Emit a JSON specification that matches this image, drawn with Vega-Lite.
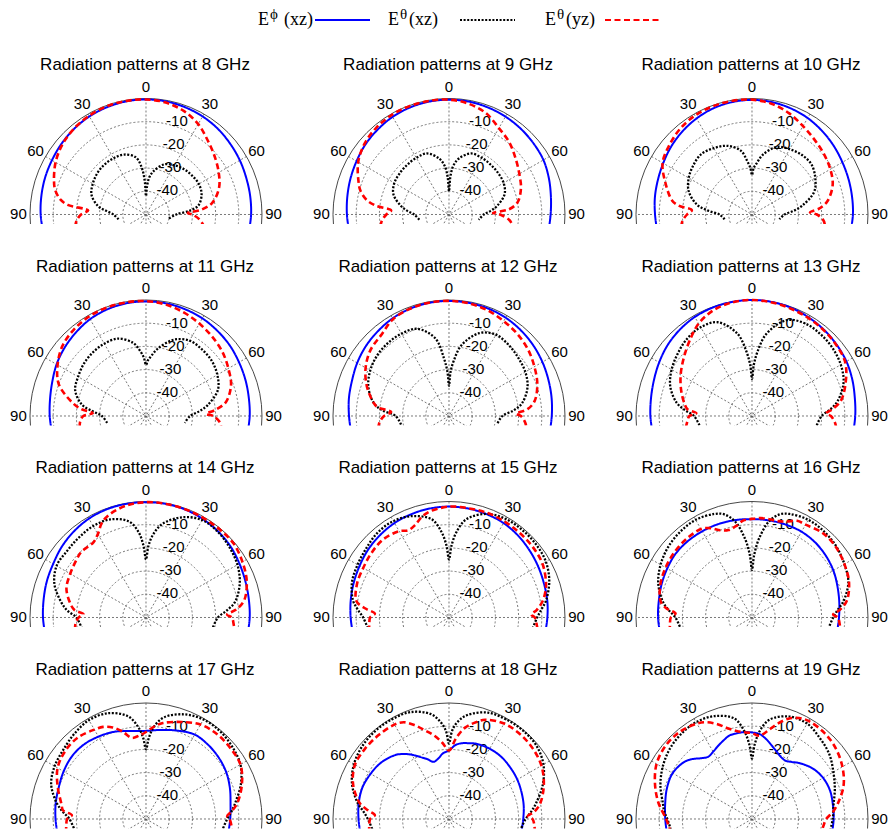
{
"$schema":"https://vega.github.io/schema/vega-lite/v6.json",
"padding":0,
"background":"white",
"spacing":16,
"config":{"view":{"stroke":null},"font":"Liberation Sans"},
"datasets":{
"leg":[{"s":"p","e":"E","g":"ϕ","tail":"(xz)"},{"s":"t","e":"E","g":"θ","tail":"(xz)"},{"s":"y","e":"E","g":"θ","tail":"(yz)"}],
"main":[
{"k":"ring","a":0,"d":-40},{"k":"ring","a":0,"d":-30},{"k":"ring","a":0,"d":-20},{"k":"ring","a":0,"d":-10},
{"k":"outer","a":0,"d":0},
{"k":"spoke","a":-60,"d":0},{"k":"spoke","a":-30,"d":0},{"k":"spoke","a":0,"d":0},{"k":"spoke","a":30,"d":0},{"k":"spoke","a":60,"d":0},{"k":"spoke","a":90,"d":0},
{"k":"rlab","a":8,"d":-39.5,"t":"-40"},{"k":"rlab","a":8,"d":-29.5,"t":"-30"},{"k":"rlab","a":8,"d":-19.5,"t":"-20"},{"k":"rlab","a":8,"d":-9.5,"t":"-10"},
{"k":"alab","a":-90,"d":5,"t":"90"},{"k":"alab","a":-60,"d":5,"t":"60"},{"k":"alab","a":-30,"d":5,"t":"30"},{"k":"alab","a":0,"d":5,"t":"0"},{"k":"alab","a":30,"d":5,"t":"30"},{"k":"alab","a":60,"d":5,"t":"60"},{"k":"alab","a":90,"d":5,"t":"90"},

{"f":8,"s":"p","a":-100,"d":-5},{"f":8,"s":"p","a":-90,"d":-4.6},{"f":8,"s":"p","a":-80,"d":-4.2},{"f":8,"s":"p","a":-70,"d":-3.7},{"f":8,"s":"p","a":-60,"d":-3.2},{"f":8,"s":"p","a":-50,"d":-2.5},{"f":8,"s":"p","a":-40,"d":-1.8},{"f":8,"s":"p","a":-30,"d":-1.2},{"f":8,"s":"p","a":-20,"d":-0.8},{"f":8,"s":"p","a":-10,"d":-0.5},{"f":8,"s":"p","a":0,"d":-0.4},{"f":8,"s":"p","a":10,"d":-0.5},{"f":8,"s":"p","a":20,"d":-0.8},{"f":8,"s":"p","a":30,"d":-1.2},{"f":8,"s":"p","a":40,"d":-1.8},{"f":8,"s":"p","a":50,"d":-2.6},{"f":8,"s":"p","a":60,"d":-3.3},{"f":8,"s":"p","a":70,"d":-4},{"f":8,"s":"p","a":80,"d":-4.4},{"f":8,"s":"p","a":90,"d":-4.7},{"f":8,"s":"p","a":100,"d":-5},
{"f":8,"s":"t","a":-100,"d":-38},{"f":8,"s":"t","a":-90,"d":-36},{"f":8,"s":"t","a":-85,"d":-33},{"f":8,"s":"t","a":-80,"d":-29},{"f":8,"s":"t","a":-70,"d":-25},{"f":8,"s":"t","a":-60,"d":-23.5},{"f":8,"s":"t","a":-50,"d":-22.5},{"f":8,"s":"t","a":-40,"d":-22},{"f":8,"s":"t","a":-30,"d":-22},{"f":8,"s":"t","a":-20,"d":-22.5},{"f":8,"s":"t","a":-10,"d":-25},{"f":8,"s":"t","a":-5,"d":-30},{"f":8,"s":"t","a":-2,"d":-36},{"f":8,"s":"t","a":0,"d":-42},{"f":8,"s":"t","a":2,"d":-38},{"f":8,"s":"t","a":5,"d":-34},{"f":8,"s":"t","a":10,"d":-31},{"f":8,"s":"t","a":20,"d":-27},{"f":8,"s":"t","a":30,"d":-25.5},{"f":8,"s":"t","a":40,"d":-24.5},{"f":8,"s":"t","a":50,"d":-24},{"f":8,"s":"t","a":60,"d":-23.7},{"f":8,"s":"t","a":70,"d":-24.5},{"f":8,"s":"t","a":80,"d":-27},{"f":8,"s":"t","a":85,"d":-31},{"f":8,"s":"t","a":90,"d":-37},{"f":8,"s":"t","a":100,"d":-40},
{"f":8,"s":"y","a":-100,"d":-19},{"f":8,"s":"y","a":-95,"d":-20},{"f":8,"s":"y","a":-90,"d":-22},{"f":8,"s":"y","a":-86,"d":-25},{"f":8,"s":"y","a":-83,"d":-16},{"f":8,"s":"y","a":-80,"d":-12.5},{"f":8,"s":"y","a":-75,"d":-9.5},{"f":8,"s":"y","a":-70,"d":-7.8},{"f":8,"s":"y","a":-60,"d":-5},{"f":8,"s":"y","a":-50,"d":-3},{"f":8,"s":"y","a":-40,"d":-1.7},{"f":8,"s":"y","a":-30,"d":-0.9},{"f":8,"s":"y","a":-20,"d":-0.4},{"f":8,"s":"y","a":-10,"d":-0.3},{"f":8,"s":"y","a":0,"d":-0.4},{"f":8,"s":"y","a":10,"d":-1},{"f":8,"s":"y","a":20,"d":-2.5},{"f":8,"s":"y","a":30,"d":-5},{"f":8,"s":"y","a":40,"d":-8.5},{"f":8,"s":"y","a":50,"d":-11.3},{"f":8,"s":"y","a":60,"d":-13.8},{"f":8,"s":"y","a":70,"d":-16.5},{"f":8,"s":"y","a":80,"d":-21},{"f":8,"s":"y","a":85,"d":-26},{"f":8,"s":"y","a":88,"d":-32},{"f":8,"s":"y","a":90,"d":-30},{"f":8,"s":"y","a":95,"d":-27},{"f":8,"s":"y","a":100,"d":-25},

{"f":9,"s":"p","a":-100,"d":-6.3},{"f":9,"s":"p","a":-90,"d":-6},{"f":9,"s":"p","a":-80,"d":-5.5},{"f":9,"s":"p","a":-70,"d":-4.8},{"f":9,"s":"p","a":-60,"d":-4},{"f":9,"s":"p","a":-50,"d":-3},{"f":9,"s":"p","a":-40,"d":-2.2},{"f":9,"s":"p","a":-30,"d":-1.4},{"f":9,"s":"p","a":-20,"d":-0.9},{"f":9,"s":"p","a":-10,"d":-0.6},{"f":9,"s":"p","a":0,"d":-0.5},{"f":9,"s":"p","a":10,"d":-0.6},{"f":9,"s":"p","a":20,"d":-0.9},{"f":9,"s":"p","a":30,"d":-1.3},{"f":9,"s":"p","a":40,"d":-1.8},{"f":9,"s":"p","a":50,"d":-2.4},{"f":9,"s":"p","a":60,"d":-3},{"f":9,"s":"p","a":70,"d":-4.2},{"f":9,"s":"p","a":80,"d":-5.4},{"f":9,"s":"p","a":90,"d":-6.2},{"f":9,"s":"p","a":100,"d":-6.5},
{"f":9,"s":"t","a":-100,"d":-37},{"f":9,"s":"t","a":-90,"d":-35},{"f":9,"s":"t","a":-85,"d":-32},{"f":9,"s":"t","a":-80,"d":-29},{"f":9,"s":"t","a":-70,"d":-24.5},{"f":9,"s":"t","a":-60,"d":-22.8},{"f":9,"s":"t","a":-50,"d":-22.3},{"f":9,"s":"t","a":-40,"d":-22},{"f":9,"s":"t","a":-30,"d":-21.8},{"f":9,"s":"t","a":-20,"d":-22},{"f":9,"s":"t","a":-10,"d":-25.5},{"f":9,"s":"t","a":-5,"d":-29},{"f":9,"s":"t","a":-2,"d":-34},{"f":9,"s":"t","a":0,"d":-40},{"f":9,"s":"t","a":2,"d":-34},{"f":9,"s":"t","a":5,"d":-29},{"f":9,"s":"t","a":10,"d":-25.5},{"f":9,"s":"t","a":20,"d":-22},{"f":9,"s":"t","a":30,"d":-21.8},{"f":9,"s":"t","a":40,"d":-22},{"f":9,"s":"t","a":50,"d":-22.3},{"f":9,"s":"t","a":60,"d":-22.8},{"f":9,"s":"t","a":70,"d":-24.5},{"f":9,"s":"t","a":80,"d":-29},{"f":9,"s":"t","a":85,"d":-32},{"f":9,"s":"t","a":90,"d":-35},{"f":9,"s":"t","a":100,"d":-37},
{"f":9,"s":"y","a":-100,"d":-20},{"f":9,"s":"y","a":-95,"d":-21},{"f":9,"s":"y","a":-90,"d":-23},{"f":9,"s":"y","a":-86,"d":-25},{"f":9,"s":"y","a":-83,"d":-18},{"f":9,"s":"y","a":-80,"d":-14},{"f":9,"s":"y","a":-75,"d":-10.5},{"f":9,"s":"y","a":-70,"d":-8.5},{"f":9,"s":"y","a":-60,"d":-4.8},{"f":9,"s":"y","a":-50,"d":-2.5},{"f":9,"s":"y","a":-40,"d":-1.2},{"f":9,"s":"y","a":-30,"d":-0.5},{"f":9,"s":"y","a":-20,"d":-0.3},{"f":9,"s":"y","a":-10,"d":-0.3},{"f":9,"s":"y","a":0,"d":-0.5},{"f":9,"s":"y","a":10,"d":-1.5},{"f":9,"s":"y","a":20,"d":-3.5},{"f":9,"s":"y","a":30,"d":-7},{"f":9,"s":"y","a":40,"d":-9.5},{"f":9,"s":"y","a":50,"d":-12.5},{"f":9,"s":"y","a":60,"d":-15},{"f":9,"s":"y","a":70,"d":-17},{"f":9,"s":"y","a":80,"d":-20},{"f":9,"s":"y","a":85,"d":-24},{"f":9,"s":"y","a":88,"d":-31},{"f":9,"s":"y","a":90,"d":-28},{"f":9,"s":"y","a":95,"d":-24},{"f":9,"s":"y","a":100,"d":-22},

{"f":10,"s":"p","a":-100,"d":-8.5},{"f":10,"s":"p","a":-90,"d":-8.2},{"f":10,"s":"p","a":-80,"d":-7.5},{"f":10,"s":"p","a":-70,"d":-6.8},{"f":10,"s":"p","a":-60,"d":-5.8},{"f":10,"s":"p","a":-50,"d":-4.5},{"f":10,"s":"p","a":-40,"d":-3.3},{"f":10,"s":"p","a":-30,"d":-2.2},{"f":10,"s":"p","a":-20,"d":-1.3},{"f":10,"s":"p","a":-10,"d":-0.8},{"f":10,"s":"p","a":0,"d":-0.6},{"f":10,"s":"p","a":10,"d":-0.8},{"f":10,"s":"p","a":20,"d":-1.3},{"f":10,"s":"p","a":30,"d":-2},{"f":10,"s":"p","a":40,"d":-3},{"f":10,"s":"p","a":50,"d":-4},{"f":10,"s":"p","a":60,"d":-5},{"f":10,"s":"p","a":70,"d":-5.7},{"f":10,"s":"p","a":80,"d":-6.2},{"f":10,"s":"p","a":90,"d":-6.5},{"f":10,"s":"p","a":100,"d":-6.8},
{"f":10,"s":"t","a":-100,"d":-38},{"f":10,"s":"t","a":-90,"d":-36},{"f":10,"s":"t","a":-85,"d":-31},{"f":10,"s":"t","a":-80,"d":-26},{"f":10,"s":"t","a":-70,"d":-21},{"f":10,"s":"t","a":-60,"d":-18.5},{"f":10,"s":"t","a":-50,"d":-17},{"f":10,"s":"t","a":-40,"d":-16},{"f":10,"s":"t","a":-30,"d":-17},{"f":10,"s":"t","a":-20,"d":-18.5},{"f":10,"s":"t","a":-10,"d":-22},{"f":10,"s":"t","a":-5,"d":-27},{"f":10,"s":"t","a":-2,"d":-30},{"f":10,"s":"t","a":0,"d":-33},{"f":10,"s":"t","a":2,"d":-30},{"f":10,"s":"t","a":5,"d":-28},{"f":10,"s":"t","a":10,"d":-24},{"f":10,"s":"t","a":20,"d":-19},{"f":10,"s":"t","a":30,"d":-17.5},{"f":10,"s":"t","a":40,"d":-16.5},{"f":10,"s":"t","a":50,"d":-16.5},{"f":10,"s":"t","a":60,"d":-18.5},{"f":10,"s":"t","a":70,"d":-21.5},{"f":10,"s":"t","a":80,"d":-28},{"f":10,"s":"t","a":85,"d":-32},{"f":10,"s":"t","a":90,"d":-36},{"f":10,"s":"t","a":100,"d":-38},
{"f":10,"s":"y","a":-100,"d":-19},{"f":10,"s":"y","a":-95,"d":-20},{"f":10,"s":"y","a":-90,"d":-22},{"f":10,"s":"y","a":-86,"d":-24},{"f":10,"s":"y","a":-83,"d":-18},{"f":10,"s":"y","a":-80,"d":-15},{"f":10,"s":"y","a":-70,"d":-10.3},{"f":10,"s":"y","a":-60,"d":-5.5},{"f":10,"s":"y","a":-50,"d":-3.5},{"f":10,"s":"y","a":-40,"d":-1.8},{"f":10,"s":"y","a":-30,"d":-0.8},{"f":10,"s":"y","a":-20,"d":-0.4},{"f":10,"s":"y","a":-10,"d":-0.3},{"f":10,"s":"y","a":0,"d":-0.5},{"f":10,"s":"y","a":10,"d":-1.5},{"f":10,"s":"y","a":20,"d":-3.5},{"f":10,"s":"y","a":30,"d":-6},{"f":10,"s":"y","a":40,"d":-8},{"f":10,"s":"y","a":50,"d":-9.5},{"f":10,"s":"y","a":60,"d":-11},{"f":10,"s":"y","a":70,"d":-13},{"f":10,"s":"y","a":80,"d":-17},{"f":10,"s":"y","a":85,"d":-21},{"f":10,"s":"y","a":88,"d":-25},{"f":10,"s":"y","a":90,"d":-22},{"f":10,"s":"y","a":95,"d":-19},{"f":10,"s":"y","a":100,"d":-18},

{"f":11,"s":"p","a":-100,"d":-8.8},{"f":11,"s":"p","a":-90,"d":-8.5},{"f":11,"s":"p","a":-80,"d":-8},{"f":11,"s":"p","a":-70,"d":-7},{"f":11,"s":"p","a":-60,"d":-5.5},{"f":11,"s":"p","a":-50,"d":-4.2},{"f":11,"s":"p","a":-40,"d":-3},{"f":11,"s":"p","a":-30,"d":-1.8},{"f":11,"s":"p","a":-20,"d":-1.1},{"f":11,"s":"p","a":-10,"d":-0.7},{"f":11,"s":"p","a":0,"d":-0.6},{"f":11,"s":"p","a":10,"d":-0.7},{"f":11,"s":"p","a":20,"d":-1},{"f":11,"s":"p","a":30,"d":-1.4},{"f":11,"s":"p","a":40,"d":-2.1},{"f":11,"s":"p","a":50,"d":-2.8},{"f":11,"s":"p","a":60,"d":-3.7},{"f":11,"s":"p","a":70,"d":-4.4},{"f":11,"s":"p","a":80,"d":-5},{"f":11,"s":"p","a":90,"d":-5.3},{"f":11,"s":"p","a":100,"d":-5.6},
{"f":11,"s":"t","a":-100,"d":-33},{"f":11,"s":"t","a":-90,"d":-31},{"f":11,"s":"t","a":-85,"d":-27},{"f":11,"s":"t","a":-80,"d":-22},{"f":11,"s":"t","a":-70,"d":-17.5},{"f":11,"s":"t","a":-60,"d":-16.2},{"f":11,"s":"t","a":-50,"d":-15},{"f":11,"s":"t","a":-40,"d":-14.3},{"f":11,"s":"t","a":-30,"d":-14},{"f":11,"s":"t","a":-20,"d":-14.5},{"f":11,"s":"t","a":-10,"d":-18},{"f":11,"s":"t","a":-5,"d":-22},{"f":11,"s":"t","a":-2,"d":-25},{"f":11,"s":"t","a":0,"d":-28},{"f":11,"s":"t","a":2,"d":-26},{"f":11,"s":"t","a":5,"d":-24},{"f":11,"s":"t","a":10,"d":-20.5},{"f":11,"s":"t","a":20,"d":-15},{"f":11,"s":"t","a":30,"d":-12.5},{"f":11,"s":"t","a":40,"d":-12.5},{"f":11,"s":"t","a":50,"d":-13},{"f":11,"s":"t","a":60,"d":-14.5},{"f":11,"s":"t","a":70,"d":-17},{"f":11,"s":"t","a":80,"d":-23},{"f":11,"s":"t","a":85,"d":-27},{"f":11,"s":"t","a":90,"d":-31},{"f":11,"s":"t","a":100,"d":-33},
{"f":11,"s":"y","a":-100,"d":-21},{"f":11,"s":"y","a":-95,"d":-21.5},{"f":11,"s":"y","a":-90,"d":-23},{"f":11,"s":"y","a":-87,"d":-27},{"f":11,"s":"y","a":-84,"d":-22},{"f":11,"s":"y","a":-80,"d":-18},{"f":11,"s":"y","a":-70,"d":-10},{"f":11,"s":"y","a":-60,"d":-6},{"f":11,"s":"y","a":-50,"d":-3},{"f":11,"s":"y","a":-40,"d":-1.5},{"f":11,"s":"y","a":-30,"d":-0.6},{"f":11,"s":"y","a":-20,"d":-0.3},{"f":11,"s":"y","a":-10,"d":-0.3},{"f":11,"s":"y","a":0,"d":-0.5},{"f":11,"s":"y","a":10,"d":-1.2},{"f":11,"s":"y","a":20,"d":-2.5},{"f":11,"s":"y","a":30,"d":-4},{"f":11,"s":"y","a":40,"d":-5.5},{"f":11,"s":"y","a":50,"d":-7},{"f":11,"s":"y","a":60,"d":-9},{"f":11,"s":"y","a":70,"d":-11},{"f":11,"s":"y","a":80,"d":-15},{"f":11,"s":"y","a":85,"d":-20},{"f":11,"s":"y","a":88,"d":-24},{"f":11,"s":"y","a":90,"d":-21},{"f":11,"s":"y","a":95,"d":-18},{"f":11,"s":"y","a":100,"d":-17},

{"f":12,"s":"p","a":-100,"d":-7.2},{"f":12,"s":"p","a":-90,"d":-6.9},{"f":12,"s":"p","a":-80,"d":-6.2},{"f":12,"s":"p","a":-70,"d":-5.5},{"f":12,"s":"p","a":-60,"d":-4.3},{"f":12,"s":"p","a":-50,"d":-3.2},{"f":12,"s":"p","a":-40,"d":-2.3},{"f":12,"s":"p","a":-30,"d":-1.4},{"f":12,"s":"p","a":-20,"d":-0.8},{"f":12,"s":"p","a":-10,"d":-0.5},{"f":12,"s":"p","a":0,"d":-0.4},{"f":12,"s":"p","a":10,"d":-0.5},{"f":12,"s":"p","a":20,"d":-0.7},{"f":12,"s":"p","a":30,"d":-1.1},{"f":12,"s":"p","a":40,"d":-1.8},{"f":12,"s":"p","a":50,"d":-2.6},{"f":12,"s":"p","a":60,"d":-3.5},{"f":12,"s":"p","a":70,"d":-4.4},{"f":12,"s":"p","a":80,"d":-5.1},{"f":12,"s":"p","a":90,"d":-5.7},{"f":12,"s":"p","a":100,"d":-6},
{"f":12,"s":"t","a":-100,"d":-29},{"f":12,"s":"t","a":-90,"d":-27},{"f":12,"s":"t","a":-85,"d":-21},{"f":12,"s":"t","a":-80,"d":-17},{"f":12,"s":"t","a":-70,"d":-13},{"f":12,"s":"t","a":-60,"d":-10.8},{"f":12,"s":"t","a":-50,"d":-9.5},{"f":12,"s":"t","a":-40,"d":-9},{"f":12,"s":"t","a":-30,"d":-9},{"f":12,"s":"t","a":-20,"d":-10},{"f":12,"s":"t","a":-10,"d":-16},{"f":12,"s":"t","a":-5,"d":-25},{"f":12,"s":"t","a":-2,"d":-31},{"f":12,"s":"t","a":0,"d":-37},{"f":12,"s":"t","a":2,"d":-31},{"f":12,"s":"t","a":5,"d":-26},{"f":12,"s":"t","a":10,"d":-19},{"f":12,"s":"t","a":20,"d":-12},{"f":12,"s":"t","a":30,"d":-9.5},{"f":12,"s":"t","a":40,"d":-10},{"f":12,"s":"t","a":50,"d":-11},{"f":12,"s":"t","a":60,"d":-12},{"f":12,"s":"t","a":70,"d":-14},{"f":12,"s":"t","a":80,"d":-18},{"f":12,"s":"t","a":85,"d":-22},{"f":12,"s":"t","a":90,"d":-27},{"f":12,"s":"t","a":100,"d":-29},
{"f":12,"s":"y","a":-100,"d":-19},{"f":12,"s":"y","a":-95,"d":-20},{"f":12,"s":"y","a":-90,"d":-22},{"f":12,"s":"y","a":-86,"d":-25},{"f":12,"s":"y","a":-83,"d":-19},{"f":12,"s":"y","a":-80,"d":-17},{"f":12,"s":"y","a":-70,"d":-12.3},{"f":12,"s":"y","a":-60,"d":-8.5},{"f":12,"s":"y","a":-50,"d":-5.8},{"f":12,"s":"y","a":-40,"d":-4.5},{"f":12,"s":"y","a":-30,"d":-1.8},{"f":12,"s":"y","a":-20,"d":-0.8},{"f":12,"s":"y","a":-10,"d":-0.4},{"f":12,"s":"y","a":0,"d":-0.4},{"f":12,"s":"y","a":10,"d":-0.7},{"f":12,"s":"y","a":20,"d":-1.5},{"f":12,"s":"y","a":30,"d":-2.8},{"f":12,"s":"y","a":40,"d":-4},{"f":12,"s":"y","a":50,"d":-5.5},{"f":12,"s":"y","a":60,"d":-7.5},{"f":12,"s":"y","a":70,"d":-9.5},{"f":12,"s":"y","a":80,"d":-12.5},{"f":12,"s":"y","a":85,"d":-16},{"f":12,"s":"y","a":88,"d":-21},{"f":12,"s":"y","a":90,"d":-19},{"f":12,"s":"y","a":95,"d":-17},{"f":12,"s":"y","a":100,"d":-16},

{"f":13,"s":"p","a":-100,"d":-6.5},{"f":13,"s":"p","a":-90,"d":-6.2},{"f":13,"s":"p","a":-80,"d":-5.8},{"f":13,"s":"p","a":-70,"d":-5},{"f":13,"s":"p","a":-60,"d":-3.8},{"f":13,"s":"p","a":-50,"d":-2.5},{"f":13,"s":"p","a":-40,"d":-1.5},{"f":13,"s":"p","a":-30,"d":-0.7},{"f":13,"s":"p","a":-20,"d":-0.3},{"f":13,"s":"p","a":-10,"d":-0.1},{"f":13,"s":"p","a":0,"d":0},{"f":13,"s":"p","a":10,"d":-0.1},{"f":13,"s":"p","a":20,"d":-0.4},{"f":13,"s":"p","a":30,"d":-1},{"f":13,"s":"p","a":40,"d":-1.6},{"f":13,"s":"p","a":50,"d":-2.3},{"f":13,"s":"p","a":60,"d":-3},{"f":13,"s":"p","a":70,"d":-4},{"f":13,"s":"p","a":80,"d":-5},{"f":13,"s":"p","a":90,"d":-5.5},{"f":13,"s":"p","a":100,"d":-5.8},
{"f":13,"s":"t","a":-100,"d":-27},{"f":13,"s":"t","a":-90,"d":-25},{"f":13,"s":"t","a":-85,"d":-21},{"f":13,"s":"t","a":-80,"d":-17},{"f":13,"s":"t","a":-70,"d":-12.5},{"f":13,"s":"t","a":-60,"d":-10},{"f":13,"s":"t","a":-50,"d":-8.2},{"f":13,"s":"t","a":-40,"d":-6.5},{"f":13,"s":"t","a":-30,"d":-5.8},{"f":13,"s":"t","a":-20,"d":-7},{"f":13,"s":"t","a":-10,"d":-14},{"f":13,"s":"t","a":-5,"d":-22},{"f":13,"s":"t","a":-2,"d":-28},{"f":13,"s":"t","a":0,"d":-34},{"f":13,"s":"t","a":2,"d":-28},{"f":13,"s":"t","a":5,"d":-22},{"f":13,"s":"t","a":10,"d":-14},{"f":13,"s":"t","a":20,"d":-6},{"f":13,"s":"t","a":30,"d":-4},{"f":13,"s":"t","a":40,"d":-4},{"f":13,"s":"t","a":50,"d":-4.6},{"f":13,"s":"t","a":60,"d":-5.8},{"f":13,"s":"t","a":70,"d":-8},{"f":13,"s":"t","a":80,"d":-12.5},{"f":13,"s":"t","a":85,"d":-16},{"f":13,"s":"t","a":90,"d":-20},{"f":13,"s":"t","a":100,"d":-22},
{"f":13,"s":"y","a":-100,"d":-21},{"f":13,"s":"y","a":-95,"d":-22},{"f":13,"s":"y","a":-90,"d":-23},{"f":13,"s":"y","a":-87,"d":-26},{"f":13,"s":"y","a":-84,"d":-22},{"f":13,"s":"y","a":-80,"d":-20.5},{"f":13,"s":"y","a":-70,"d":-17.5},{"f":13,"s":"y","a":-60,"d":-14.5},{"f":13,"s":"y","a":-50,"d":-11.5},{"f":13,"s":"y","a":-40,"d":-8},{"f":13,"s":"y","a":-30,"d":-4},{"f":13,"s":"y","a":-20,"d":-1.5},{"f":13,"s":"y","a":-10,"d":-0.3},{"f":13,"s":"y","a":0,"d":0},{"f":13,"s":"y","a":10,"d":-0.3},{"f":13,"s":"y","a":20,"d":-0.8},{"f":13,"s":"y","a":30,"d":-1.3},{"f":13,"s":"y","a":40,"d":-1.8},{"f":13,"s":"y","a":50,"d":-2.5},{"f":13,"s":"y","a":60,"d":-3.6},{"f":13,"s":"y","a":70,"d":-7},{"f":13,"s":"y","a":80,"d":-11},{"f":13,"s":"y","a":85,"d":-15},{"f":13,"s":"y","a":88,"d":-18},{"f":13,"s":"y","a":90,"d":-16},{"f":13,"s":"y","a":95,"d":-14},{"f":13,"s":"y","a":100,"d":-13},

{"f":14,"s":"p","a":-100,"d":-5.9},{"f":14,"s":"p","a":-90,"d":-5.6},{"f":14,"s":"p","a":-80,"d":-5.2},{"f":14,"s":"p","a":-70,"d":-4.5},{"f":14,"s":"p","a":-60,"d":-3.8},{"f":14,"s":"p","a":-50,"d":-2.6},{"f":14,"s":"p","a":-40,"d":-1.6},{"f":14,"s":"p","a":-30,"d":-0.8},{"f":14,"s":"p","a":-20,"d":-0.4},{"f":14,"s":"p","a":-10,"d":-0.3},{"f":14,"s":"p","a":0,"d":-0.3},{"f":14,"s":"p","a":10,"d":-0.3},{"f":14,"s":"p","a":20,"d":-0.5},{"f":14,"s":"p","a":30,"d":-1},{"f":14,"s":"p","a":40,"d":-1.6},{"f":14,"s":"p","a":50,"d":-2.4},{"f":14,"s":"p","a":60,"d":-3.5},{"f":14,"s":"p","a":70,"d":-4.4},{"f":14,"s":"p","a":80,"d":-5},{"f":14,"s":"p","a":90,"d":-5.3},{"f":14,"s":"p","a":100,"d":-5.6},
{"f":14,"s":"t","a":-100,"d":-22},{"f":14,"s":"t","a":-90,"d":-20},{"f":14,"s":"t","a":-85,"d":-16},{"f":14,"s":"t","a":-80,"d":-13},{"f":14,"s":"t","a":-70,"d":-8},{"f":14,"s":"t","a":-60,"d":-5.5},{"f":14,"s":"t","a":-50,"d":-5.5},{"f":14,"s":"t","a":-40,"d":-5},{"f":14,"s":"t","a":-30,"d":-4.5},{"f":14,"s":"t","a":-20,"d":-5},{"f":14,"s":"t","a":-10,"d":-8},{"f":14,"s":"t","a":-5,"d":-13},{"f":14,"s":"t","a":-2,"d":-19},{"f":14,"s":"t","a":0,"d":-25},{"f":14,"s":"t","a":2,"d":-19},{"f":14,"s":"t","a":5,"d":-14},{"f":14,"s":"t","a":10,"d":-9},{"f":14,"s":"t","a":20,"d":-4},{"f":14,"s":"t","a":30,"d":-1.5},{"f":14,"s":"t","a":40,"d":-1.8},{"f":14,"s":"t","a":50,"d":-3},{"f":14,"s":"t","a":60,"d":-4.5},{"f":14,"s":"t","a":70,"d":-7},{"f":14,"s":"t","a":80,"d":-11},{"f":14,"s":"t","a":85,"d":-15},{"f":14,"s":"t","a":90,"d":-19},{"f":14,"s":"t","a":100,"d":-21},
{"f":14,"s":"y","a":-100,"d":-19},{"f":14,"s":"y","a":-95,"d":-19.5},{"f":14,"s":"y","a":-90,"d":-21},{"f":14,"s":"y","a":-87,"d":-23},{"f":14,"s":"y","a":-84,"d":-19},{"f":14,"s":"y","a":-80,"d":-17},{"f":14,"s":"y","a":-70,"d":-13.5},{"f":14,"s":"y","a":-60,"d":-12.3},{"f":14,"s":"y","a":-50,"d":-11},{"f":14,"s":"y","a":-45,"d":-10.3},{"f":14,"s":"y","a":-40,"d":-10.5},{"f":14,"s":"y","a":-35,"d":-10.5},{"f":14,"s":"y","a":-30,"d":-8.5},{"f":14,"s":"y","a":-25,"d":-5},{"f":14,"s":"y","a":-20,"d":-3},{"f":14,"s":"y","a":-10,"d":-1},{"f":14,"s":"y","a":0,"d":-0.3},{"f":14,"s":"y","a":10,"d":-0.3},{"f":14,"s":"y","a":20,"d":-0.4},{"f":14,"s":"y","a":30,"d":-0.5},{"f":14,"s":"y","a":40,"d":-0.5},{"f":14,"s":"y","a":50,"d":-0.6},{"f":14,"s":"y","a":60,"d":-2},{"f":14,"s":"y","a":70,"d":-3.8},{"f":14,"s":"y","a":80,"d":-7},{"f":14,"s":"y","a":85,"d":-11},{"f":14,"s":"y","a":88,"d":-15},{"f":14,"s":"y","a":90,"d":-13},{"f":14,"s":"y","a":95,"d":-12},{"f":14,"s":"y","a":100,"d":-11},

{"f":15,"s":"p","a":-100,"d":-8},{"f":15,"s":"p","a":-90,"d":-7.6},{"f":15,"s":"p","a":-80,"d":-7},{"f":15,"s":"p","a":-70,"d":-6.3},{"f":15,"s":"p","a":-60,"d":-5.5},{"f":15,"s":"p","a":-50,"d":-4.5},{"f":15,"s":"p","a":-40,"d":-3.7},{"f":15,"s":"p","a":-30,"d":-3},{"f":15,"s":"p","a":-20,"d":-2.6},{"f":15,"s":"p","a":-10,"d":-2.3},{"f":15,"s":"p","a":0,"d":-2.2},{"f":15,"s":"p","a":10,"d":-2.3},{"f":15,"s":"p","a":20,"d":-2.6},{"f":15,"s":"p","a":30,"d":-3},{"f":15,"s":"p","a":40,"d":-3.8},{"f":15,"s":"p","a":50,"d":-4.8},{"f":15,"s":"p","a":60,"d":-5.7},{"f":15,"s":"p","a":70,"d":-6.5},{"f":15,"s":"p","a":80,"d":-7},{"f":15,"s":"p","a":90,"d":-7.6},{"f":15,"s":"p","a":100,"d":-8},
{"f":15,"s":"t","a":-100,"d":-15},{"f":15,"s":"t","a":-90,"d":-13},{"f":15,"s":"t","a":-85,"d":-10.5},{"f":15,"s":"t","a":-80,"d":-8},{"f":15,"s":"t","a":-70,"d":-5.5},{"f":15,"s":"t","a":-60,"d":-4.5},{"f":15,"s":"t","a":-50,"d":-3.5},{"f":15,"s":"t","a":-40,"d":-2.2},{"f":15,"s":"t","a":-30,"d":-2},{"f":15,"s":"t","a":-20,"d":-3.5},{"f":15,"s":"t","a":-10,"d":-7},{"f":15,"s":"t","a":-5,"d":-13},{"f":15,"s":"t","a":-2,"d":-19},{"f":15,"s":"t","a":0,"d":-25},{"f":15,"s":"t","a":2,"d":-19},{"f":15,"s":"t","a":5,"d":-13},{"f":15,"s":"t","a":10,"d":-7},{"f":15,"s":"t","a":20,"d":-2.5},{"f":15,"s":"t","a":30,"d":-1},{"f":15,"s":"t","a":40,"d":-0.8},{"f":15,"s":"t","a":50,"d":-1},{"f":15,"s":"t","a":60,"d":-1.8},{"f":15,"s":"t","a":70,"d":-4},{"f":15,"s":"t","a":80,"d":-7.5},{"f":15,"s":"t","a":85,"d":-10},{"f":15,"s":"t","a":90,"d":-12},{"f":15,"s":"t","a":100,"d":-14},
{"f":15,"s":"y","a":-100,"d":-15},{"f":15,"s":"y","a":-95,"d":-15.5},{"f":15,"s":"y","a":-90,"d":-16},{"f":15,"s":"y","a":-87,"d":-18},{"f":15,"s":"y","a":-84,"d":-14},{"f":15,"s":"y","a":-80,"d":-9.5},{"f":15,"s":"y","a":-70,"d":-7.8},{"f":15,"s":"y","a":-60,"d":-7.3},{"f":15,"s":"y","a":-50,"d":-6.5},{"f":15,"s":"y","a":-40,"d":-6},{"f":15,"s":"y","a":-30,"d":-7},{"f":15,"s":"y","a":-25,"d":-8.5},{"f":15,"s":"y","a":-20,"d":-7.5},{"f":15,"s":"y","a":-15,"d":-5},{"f":15,"s":"y","a":-10,"d":-3.5},{"f":15,"s":"y","a":0,"d":-2.2},{"f":15,"s":"y","a":10,"d":-2.2},{"f":15,"s":"y","a":20,"d":-2},{"f":15,"s":"y","a":30,"d":-2.2},{"f":15,"s":"y","a":40,"d":-2.5},{"f":15,"s":"y","a":50,"d":-2.8},{"f":15,"s":"y","a":60,"d":-3.5},{"f":15,"s":"y","a":70,"d":-5.5},{"f":15,"s":"y","a":75,"d":-7},{"f":15,"s":"y","a":80,"d":-9},{"f":15,"s":"y","a":85,"d":-12},{"f":15,"s":"y","a":88,"d":-14.5},{"f":15,"s":"y","a":90,"d":-13},{"f":15,"s":"y","a":95,"d":-12},{"f":15,"s":"y","a":100,"d":-11},

{"f":16,"s":"p","a":-100,"d":-9.8},{"f":16,"s":"p","a":-90,"d":-9.5},{"f":16,"s":"p","a":-80,"d":-9.2},{"f":16,"s":"p","a":-70,"d":-8.5},{"f":16,"s":"p","a":-60,"d":-7.8},{"f":16,"s":"p","a":-50,"d":-7.1},{"f":16,"s":"p","a":-40,"d":-7},{"f":16,"s":"p","a":-30,"d":-7.1},{"f":16,"s":"p","a":-20,"d":-7.2},{"f":16,"s":"p","a":-10,"d":-7.4},{"f":16,"s":"p","a":0,"d":-7.6},{"f":16,"s":"p","a":10,"d":-7.5},{"f":16,"s":"p","a":20,"d":-7.4},{"f":16,"s":"p","a":30,"d":-7.3},{"f":16,"s":"p","a":40,"d":-7.7},{"f":16,"s":"p","a":50,"d":-8.5},{"f":16,"s":"p","a":60,"d":-9.5},{"f":16,"s":"p","a":70,"d":-10.8},{"f":16,"s":"p","a":80,"d":-11.8},{"f":16,"s":"p","a":90,"d":-12.5},{"f":16,"s":"p","a":100,"d":-12.8},
{"f":16,"s":"t","a":-100,"d":-19},{"f":16,"s":"t","a":-90,"d":-17},{"f":16,"s":"t","a":-85,"d":-14},{"f":16,"s":"t","a":-80,"d":-11},{"f":16,"s":"t","a":-70,"d":-7},{"f":16,"s":"t","a":-60,"d":-4.5},{"f":16,"s":"t","a":-50,"d":-2.8},{"f":16,"s":"t","a":-40,"d":-1.8},{"f":16,"s":"t","a":-30,"d":-1.4},{"f":16,"s":"t","a":-20,"d":-2.5},{"f":16,"s":"t","a":-15,"d":-4},{"f":16,"s":"t","a":-10,"d":-8},{"f":16,"s":"t","a":-5,"d":-16},{"f":16,"s":"t","a":-2,"d":-23},{"f":16,"s":"t","a":0,"d":-29.5},{"f":16,"s":"t","a":2,"d":-23},{"f":16,"s":"t","a":5,"d":-16},{"f":16,"s":"t","a":10,"d":-8},{"f":16,"s":"t","a":15,"d":-4},{"f":16,"s":"t","a":20,"d":-2.5},{"f":16,"s":"t","a":30,"d":-1.4},{"f":16,"s":"t","a":40,"d":-1.6},{"f":16,"s":"t","a":50,"d":-2.5},{"f":16,"s":"t","a":60,"d":-4},{"f":16,"s":"t","a":70,"d":-5.8},{"f":16,"s":"t","a":80,"d":-10},{"f":16,"s":"t","a":85,"d":-13},{"f":16,"s":"t","a":90,"d":-15},{"f":16,"s":"t","a":100,"d":-17},
{"f":16,"s":"y","a":-100,"d":-14},{"f":16,"s":"y","a":-95,"d":-14.5},{"f":16,"s":"y","a":-90,"d":-15},{"f":16,"s":"y","a":-87,"d":-17},{"f":16,"s":"y","a":-84,"d":-13},{"f":16,"s":"y","a":-80,"d":-10},{"f":16,"s":"y","a":-70,"d":-8},{"f":16,"s":"y","a":-60,"d":-7},{"f":16,"s":"y","a":-50,"d":-6.3},{"f":16,"s":"y","a":-40,"d":-5.9},{"f":16,"s":"y","a":-30,"d":-6},{"f":16,"s":"y","a":-25,"d":-7.5},{"f":16,"s":"y","a":-20,"d":-10},{"f":16,"s":"y","a":-15,"d":-11},{"f":16,"s":"y","a":-10,"d":-10},{"f":16,"s":"y","a":-5,"d":-8},{"f":16,"s":"y","a":0,"d":-7.5},{"f":16,"s":"y","a":5,"d":-7},{"f":16,"s":"y","a":10,"d":-7},{"f":16,"s":"y","a":15,"d":-7},{"f":16,"s":"y","a":20,"d":-6},{"f":16,"s":"y","a":25,"d":-4},{"f":16,"s":"y","a":30,"d":-3.8},{"f":16,"s":"y","a":40,"d":-2.5},{"f":16,"s":"y","a":50,"d":-2.8},{"f":16,"s":"y","a":60,"d":-4},{"f":16,"s":"y","a":70,"d":-5.5},{"f":16,"s":"y","a":80,"d":-8.5},{"f":16,"s":"y","a":85,"d":-12},{"f":16,"s":"y","a":88,"d":-15},{"f":16,"s":"y","a":90,"d":-13},{"f":16,"s":"y","a":95,"d":-12},{"f":16,"s":"y","a":100,"d":-11.5},

{"f":17,"s":"p","a":-100,"d":-11.3},{"f":17,"s":"p","a":-90,"d":-11},{"f":17,"s":"p","a":-80,"d":-10.5},{"f":17,"s":"p","a":-70,"d":-10},{"f":17,"s":"p","a":-60,"d":-9},{"f":17,"s":"p","a":-50,"d":-8.2},{"f":17,"s":"p","a":-40,"d":-8.2},{"f":17,"s":"p","a":-30,"d":-9},{"f":17,"s":"p","a":-20,"d":-10},{"f":17,"s":"p","a":-10,"d":-11.5},{"f":17,"s":"p","a":0,"d":-12},{"f":17,"s":"p","a":10,"d":-11},{"f":17,"s":"p","a":20,"d":-9.5},{"f":17,"s":"p","a":30,"d":-8},{"f":17,"s":"p","a":40,"d":-8.3},{"f":17,"s":"p","a":50,"d":-9},{"f":17,"s":"p","a":60,"d":-10},{"f":17,"s":"p","a":70,"d":-11.5},{"f":17,"s":"p","a":80,"d":-13},{"f":17,"s":"p","a":90,"d":-13.7},{"f":17,"s":"p","a":100,"d":-14},
{"f":17,"s":"t","a":-100,"d":-19},{"f":17,"s":"t","a":-90,"d":-17},{"f":17,"s":"t","a":-85,"d":-14},{"f":17,"s":"t","a":-80,"d":-11},{"f":17,"s":"t","a":-70,"d":-6.5},{"f":17,"s":"t","a":-60,"d":-4.5},{"f":17,"s":"t","a":-50,"d":-3.5},{"f":17,"s":"t","a":-40,"d":-2},{"f":17,"s":"t","a":-30,"d":-0.8},{"f":17,"s":"t","a":-20,"d":-1.5},{"f":17,"s":"t","a":-10,"d":-5},{"f":17,"s":"t","a":-5,"d":-10},{"f":17,"s":"t","a":-2,"d":-15},{"f":17,"s":"t","a":0,"d":-20},{"f":17,"s":"t","a":2,"d":-15},{"f":17,"s":"t","a":5,"d":-10},{"f":17,"s":"t","a":10,"d":-5.5},{"f":17,"s":"t","a":20,"d":-2},{"f":17,"s":"t","a":30,"d":-0.5},{"f":17,"s":"t","a":40,"d":-0.5},{"f":17,"s":"t","a":50,"d":-1.5},{"f":17,"s":"t","a":60,"d":-3},{"f":17,"s":"t","a":70,"d":-6.5},{"f":17,"s":"t","a":80,"d":-11},{"f":17,"s":"t","a":85,"d":-13},{"f":17,"s":"t","a":90,"d":-15},{"f":17,"s":"t","a":100,"d":-17},
{"f":17,"s":"y","a":-100,"d":-15},{"f":17,"s":"y","a":-95,"d":-15.5},{"f":17,"s":"y","a":-90,"d":-16},{"f":17,"s":"y","a":-87,"d":-18},{"f":17,"s":"y","a":-84,"d":-14},{"f":17,"s":"y","a":-80,"d":-13},{"f":17,"s":"y","a":-70,"d":-9.5},{"f":17,"s":"y","a":-60,"d":-6},{"f":17,"s":"y","a":-50,"d":-4.5},{"f":17,"s":"y","a":-40,"d":-4.2},{"f":17,"s":"y","a":-30,"d":-5.5},{"f":17,"s":"y","a":-25,"d":-6.2},{"f":17,"s":"y","a":-20,"d":-8},{"f":17,"s":"y","a":-15,"d":-11},{"f":17,"s":"y","a":-10,"d":-14.5},{"f":17,"s":"y","a":-5,"d":-14},{"f":17,"s":"y","a":0,"d":-12.5},{"f":17,"s":"y","a":5,"d":-10},{"f":17,"s":"y","a":10,"d":-8},{"f":17,"s":"y","a":20,"d":-5.5},{"f":17,"s":"y","a":30,"d":-3},{"f":17,"s":"y","a":40,"d":-2.3},{"f":17,"s":"y","a":50,"d":-2.5},{"f":17,"s":"y","a":60,"d":-3},{"f":17,"s":"y","a":70,"d":-6},{"f":17,"s":"y","a":80,"d":-10},{"f":17,"s":"y","a":85,"d":-13},{"f":17,"s":"y","a":88,"d":-15},{"f":17,"s":"y","a":90,"d":-14},{"f":17,"s":"y","a":95,"d":-13},{"f":17,"s":"y","a":100,"d":-12.5},

{"f":18,"s":"p","a":-100,"d":-11.3},{"f":18,"s":"p","a":-90,"d":-11},{"f":18,"s":"p","a":-80,"d":-10.5},{"f":18,"s":"p","a":-70,"d":-10.3},{"f":18,"s":"p","a":-60,"d":-11},{"f":18,"s":"p","a":-50,"d":-12},{"f":18,"s":"p","a":-40,"d":-14},{"f":18,"s":"p","a":-35,"d":-15.8},{"f":18,"s":"p","a":-30,"d":-18},{"f":18,"s":"p","a":-25,"d":-20.5},{"f":18,"s":"p","a":-20,"d":-22.5},{"f":18,"s":"p","a":-15,"d":-24.5},{"f":18,"s":"p","a":-10,"d":-23.5},{"f":18,"s":"p","a":-5,"d":-21.5},{"f":18,"s":"p","a":0,"d":-20.5},{"f":18,"s":"p","a":5,"d":-18},{"f":18,"s":"p","a":10,"d":-16.8},{"f":18,"s":"p","a":15,"d":-16.2},{"f":18,"s":"p","a":20,"d":-15.5},{"f":18,"s":"p","a":30,"d":-15},{"f":18,"s":"p","a":40,"d":-15},{"f":18,"s":"p","a":50,"d":-15.5},{"f":18,"s":"p","a":60,"d":-16},{"f":18,"s":"p","a":70,"d":-16.7},{"f":18,"s":"p","a":80,"d":-17.3},{"f":18,"s":"p","a":90,"d":-18},{"f":18,"s":"p","a":100,"d":-18.3},
{"f":18,"s":"t","a":-100,"d":-17},{"f":18,"s":"t","a":-90,"d":-15},{"f":18,"s":"t","a":-85,"d":-13},{"f":18,"s":"t","a":-80,"d":-10},{"f":18,"s":"t","a":-70,"d":-5.5},{"f":18,"s":"t","a":-60,"d":-2.7},{"f":18,"s":"t","a":-50,"d":-1.2},{"f":18,"s":"t","a":-40,"d":-0.5},{"f":18,"s":"t","a":-30,"d":-0.5},{"f":18,"s":"t","a":-20,"d":-1},{"f":18,"s":"t","a":-10,"d":-4},{"f":18,"s":"t","a":-5,"d":-8},{"f":18,"s":"t","a":-2,"d":-12},{"f":18,"s":"t","a":0,"d":-17.5},{"f":18,"s":"t","a":2,"d":-12},{"f":18,"s":"t","a":5,"d":-8},{"f":18,"s":"t","a":10,"d":-4.5},{"f":18,"s":"t","a":20,"d":-1.2},{"f":18,"s":"t","a":30,"d":-0.5},{"f":18,"s":"t","a":40,"d":-0.3},{"f":18,"s":"t","a":50,"d":-0.8},{"f":18,"s":"t","a":60,"d":-3},{"f":18,"s":"t","a":70,"d":-7},{"f":18,"s":"t","a":80,"d":-12},{"f":18,"s":"t","a":85,"d":-14.5},{"f":18,"s":"t","a":90,"d":-17},{"f":18,"s":"t","a":100,"d":-19},
{"f":18,"s":"y","a":-100,"d":-15},{"f":18,"s":"y","a":-95,"d":-15.5},{"f":18,"s":"y","a":-90,"d":-16},{"f":18,"s":"y","a":-87,"d":-18},{"f":18,"s":"y","a":-84,"d":-15},{"f":18,"s":"y","a":-80,"d":-11},{"f":18,"s":"y","a":-70,"d":-6},{"f":18,"s":"y","a":-60,"d":-3.2},{"f":18,"s":"y","a":-50,"d":-2.8},{"f":18,"s":"y","a":-40,"d":-2.8},{"f":18,"s":"y","a":-30,"d":-3},{"f":18,"s":"y","a":-25,"d":-4},{"f":18,"s":"y","a":-20,"d":-7},{"f":18,"s":"y","a":-15,"d":-10.5},{"f":18,"s":"y","a":-10,"d":-13.5},{"f":18,"s":"y","a":-5,"d":-17},{"f":18,"s":"y","a":0,"d":-20.5},{"f":18,"s":"y","a":5,"d":-15},{"f":18,"s":"y","a":10,"d":-10},{"f":18,"s":"y","a":15,"d":-7},{"f":18,"s":"y","a":20,"d":-4.5},{"f":18,"s":"y","a":30,"d":-2.5},{"f":18,"s":"y","a":40,"d":-2.3},{"f":18,"s":"y","a":50,"d":-2.8},{"f":18,"s":"y","a":60,"d":-4},{"f":18,"s":"y","a":70,"d":-6.5},{"f":18,"s":"y","a":80,"d":-10},{"f":18,"s":"y","a":85,"d":-13},{"f":18,"s":"y","a":88,"d":-16},{"f":18,"s":"y","a":90,"d":-14},{"f":18,"s":"y","a":95,"d":-13},{"f":18,"s":"y","a":100,"d":-12.5},

{"f":19,"s":"p","a":-100,"d":-12.8},{"f":19,"s":"p","a":-90,"d":-12.6},{"f":19,"s":"p","a":-80,"d":-12},{"f":19,"s":"p","a":-70,"d":-11},{"f":19,"s":"p","a":-60,"d":-10.5},{"f":19,"s":"p","a":-50,"d":-11.8},{"f":19,"s":"p","a":-45,"d":-13.5},{"f":19,"s":"p","a":-40,"d":-15.8},{"f":19,"s":"p","a":-35,"d":-17.2},{"f":19,"s":"p","a":-30,"d":-16.5},{"f":19,"s":"p","a":-25,"d":-15.3},{"f":19,"s":"p","a":-20,"d":-14},{"f":19,"s":"p","a":-15,"d":-12.7},{"f":19,"s":"p","a":-10,"d":-12.5},{"f":19,"s":"p","a":-5,"d":-12.4},{"f":19,"s":"p","a":0,"d":-12.7},{"f":19,"s":"p","a":5,"d":-13.2},{"f":19,"s":"p","a":10,"d":-15},{"f":19,"s":"p","a":15,"d":-17.2},{"f":19,"s":"p","a":20,"d":-19},{"f":19,"s":"p","a":25,"d":-20.5},{"f":19,"s":"p","a":30,"d":-21},{"f":19,"s":"p","a":35,"d":-20},{"f":19,"s":"p","a":40,"d":-18.5},{"f":19,"s":"p","a":50,"d":-16},{"f":19,"s":"p","a":60,"d":-14.6},{"f":19,"s":"p","a":70,"d":-14.2},{"f":19,"s":"p","a":80,"d":-14.6},{"f":19,"s":"p","a":90,"d":-14.8},{"f":19,"s":"p","a":100,"d":-15},
{"f":19,"s":"t","a":-100,"d":-15},{"f":19,"s":"t","a":-90,"d":-13.5},{"f":19,"s":"t","a":-85,"d":-12},{"f":19,"s":"t","a":-80,"d":-11},{"f":19,"s":"t","a":-70,"d":-8},{"f":19,"s":"t","a":-60,"d":-5.5},{"f":19,"s":"t","a":-50,"d":-3.5},{"f":19,"s":"t","a":-40,"d":-2.3},{"f":19,"s":"t","a":-30,"d":-1.8},{"f":19,"s":"t","a":-20,"d":-2.8},{"f":19,"s":"t","a":-10,"d":-6},{"f":19,"s":"t","a":-5,"d":-12},{"f":19,"s":"t","a":-2,"d":-18},{"f":19,"s":"t","a":0,"d":-24},{"f":19,"s":"t","a":2,"d":-18},{"f":19,"s":"t","a":5,"d":-12},{"f":19,"s":"t","a":10,"d":-6.5},{"f":19,"s":"t","a":20,"d":-3},{"f":19,"s":"t","a":30,"d":-2.5},{"f":19,"s":"t","a":40,"d":-4.5},{"f":19,"s":"t","a":50,"d":-6.5},{"f":19,"s":"t","a":60,"d":-9.5},{"f":19,"s":"t","a":70,"d":-12},{"f":19,"s":"t","a":80,"d":-14.3},{"f":19,"s":"t","a":90,"d":-15.2},{"f":19,"s":"t","a":100,"d":-16},
{"f":19,"s":"y","a":-100,"d":-14.5},{"f":19,"s":"y","a":-95,"d":-14},{"f":19,"s":"y","a":-90,"d":-13},{"f":19,"s":"y","a":-80,"d":-9},{"f":19,"s":"y","a":-70,"d":-5.5},{"f":19,"s":"y","a":-60,"d":-2.5},{"f":19,"s":"y","a":-50,"d":-1.2},{"f":19,"s":"y","a":-40,"d":-1.2},{"f":19,"s":"y","a":-30,"d":-2.5},{"f":19,"s":"y","a":-25,"d":-4},{"f":19,"s":"y","a":-20,"d":-6.5},{"f":19,"s":"y","a":-15,"d":-9.5},{"f":19,"s":"y","a":-10,"d":-11.5},{"f":19,"s":"y","a":-5,"d":-12.5},{"f":19,"s":"y","a":0,"d":-13},{"f":19,"s":"y","a":5,"d":-14},{"f":19,"s":"y","a":10,"d":-11.5},{"f":19,"s":"y","a":15,"d":-7.5},{"f":19,"s":"y","a":20,"d":-4},{"f":19,"s":"y","a":25,"d":-2},{"f":19,"s":"y","a":30,"d":-1.2},{"f":19,"s":"y","a":40,"d":-1.5},{"f":19,"s":"y","a":50,"d":-2.8},{"f":19,"s":"y","a":60,"d":-5},{"f":19,"s":"y","a":70,"d":-8},{"f":19,"s":"y","a":80,"d":-12.5},{"f":19,"s":"y","a":85,"d":-15},{"f":19,"s":"y","a":90,"d":-18},{"f":19,"s":"y","a":95,"d":-19},{"f":19,"s":"y","a":100,"d":-19.5}
]},
"vconcat":[
{
"data":{"name":"leg"},
"width":896,"height":40,
"encoding":{"x":{"field":"s","type":"nominal","scale":{"type":"point","padding":0,"domain":["p","t","y"],"range":[342.5,632.5]},"axis":null}},
"layer":[
{"mark":{"type":"point","shape":"stroke","size":3025,"strokeWidth":2,"opacity":1,"filled":false,"strokeCap":"butt"},
 "encoding":{"color":{"field":"s","type":"nominal","scale":{"domain":["p","t","y"],"range":["#0000ff","#000000","#ff0000"]},"legend":null},
 "strokeDash":{"field":"s","type":"nominal","scale":{"domain":["p","t","y"],"range":[[1,0],[2,1.6],[6,3.5]]},"legend":null}}},
{"transform":[{"filter":"datum.s == 'p'"}],"mark":{"type":"text","align":"left","baseline":"middle","dx":-84.5,"font":"Liberation Serif","fontSize":18,"color":"#000"},"encoding":{"text":{"field":"e"}}},
{"transform":[{"filter":"datum.s == 'p'"}],"mark":{"type":"text","align":"left","baseline":"middle","dx":-72.5,"dy":-6,"font":"Liberation Serif","fontSize":15,"color":"#000"},"encoding":{"text":{"field":"g"}}},
{"transform":[{"filter":"datum.s == 'p'"}],"mark":{"type":"text","align":"left","baseline":"middle","dx":-58.5,"font":"Liberation Serif","fontSize":18,"color":"#000"},"encoding":{"text":{"field":"tail"}}},
{"transform":[{"filter":"datum.s == 't'"}],"mark":{"type":"text","align":"left","baseline":"middle","dx":-99.5,"font":"Liberation Serif","fontSize":18,"color":"#000"},"encoding":{"text":{"field":"e"}}},
{"transform":[{"filter":"datum.s == 't'"}],"mark":{"type":"text","align":"left","baseline":"middle","dx":-87.5,"dy":-6,"font":"Liberation Serif","fontSize":15,"color":"#000"},"encoding":{"text":{"field":"g"}}},
{"transform":[{"filter":"datum.s == 't'"}],"mark":{"type":"text","align":"left","baseline":"middle","dx":-78.5,"font":"Liberation Serif","fontSize":18,"color":"#000"},"encoding":{"text":{"field":"tail"}}},
{"transform":[{"filter":"datum.s == 'y'"}],"mark":{"type":"text","align":"left","baseline":"middle","dx":-87.5,"font":"Liberation Serif","fontSize":18,"color":"#000"},"encoding":{"text":{"field":"e"}}},
{"transform":[{"filter":"datum.s == 'y'"}],"mark":{"type":"text","align":"left","baseline":"middle","dx":-75.5,"dy":-6,"font":"Liberation Serif","fontSize":15,"color":"#000"},"encoding":{"text":{"field":"g"}}},
{"transform":[{"filter":"datum.s == 'y'"}],"mark":{"type":"text","align":"left","baseline":"middle","dx":-66.5,"font":"Liberation Serif","fontSize":18,"color":"#000"},"encoding":{"text":{"field":"tail"}}}
]
},
{
"data":{"name":"main"},
"transform":[
{"fold":["p8","p9","p10","p11","p12","p13","p14","p15","p16","p17","p18","p19"],"as":["key","val"]},
{"filter":"!isValid(datum.f) || datum.key == 'p' + datum.f"},
{"calculate":"max(0, datum.d + 50)","as":"r"},
{"calculate":"datum.r * sin(datum.a * PI / 180)","as":"x"},
{"calculate":"datum.r * cos(datum.a * PI / 180)","as":"y"},
{"calculate":"-datum.x","as":"nx"},
{"calculate":"-datum.y","as":"ny"}
],
"facet":{"field":"key","type":"nominal","title":null,"sort":["p8","p9","p10","p11","p12","p13","p14","p15","p16","p17","p18","p19"],
 "header":{"title":null,"labelExpr":"'Radiation patterns at ' + substring(datum.value, 1) + ' GHz'","labelFont":"Liberation Sans","labelFontSize":17,"labelColor":"#000","labelPadding":0}},
"columns":3,
"spacing":{"row":33.5,"column":13},
"spec":{
"width":290,"height":150,
"encoding":{
 "x":{"field":"x","type":"quantitative","scale":{"domain":[-62.93,62.07],"nice":false,"zero":false},"axis":null},
 "y":{"field":"y","type":"quantitative","scale":{"domain":[-4.095,60.56],"nice":false,"zero":false},"axis":null}
},
"layer":[
{"transform":[{"filter":"datum.k == 'ring'"}],
 "mark":{"type":"point","shape":"circle","filled":false,"opacity":1,"stroke":"#555","strokeWidth":0.8,"strokeDash":[2,2],"clip":true},
 "encoding":{"x":{"datum":0},"y":{"datum":0},"size":{"field":"r","type":"quantitative","scale":{"type":"pow","exponent":2,"domain":[0,50],"range":[0,53824],"nice":false},"legend":null}}},
{"transform":[{"filter":"datum.k == 'outer'"}],
 "mark":{"type":"point","shape":"circle","filled":false,"opacity":1,"stroke":"#333","strokeWidth":0.9,"clip":true},
 "encoding":{"x":{"datum":0},"y":{"datum":0},"size":{"field":"r","type":"quantitative","scale":{"type":"pow","exponent":2,"domain":[0,50],"range":[0,53824],"nice":false},"legend":null}}},
{"transform":[{"filter":"datum.k == 'spoke'"}],
 "mark":{"type":"rule","stroke":"#555","strokeWidth":0.8,"strokeDash":[2,2],"clip":true},
 "encoding":{"x2":{"field":"nx"},"y2":{"field":"ny"}}},
{"transform":[{"filter":"datum.k == 'rlab'"}],
 "mark":{"type":"text","align":"left","baseline":"middle","dx":7,"fontSize":15,"color":"#000"},
 "encoding":{"text":{"field":"t"}}},
{"transform":[{"filter":"datum.k == 'alab'"}],
 "mark":{"type":"text","align":"center","baseline":"middle","fontSize":15,"color":"#000"},
 "encoding":{"text":{"field":"t"}}},
{"transform":[{"filter":"!isValid(datum.k)"}],
 "mark":{"type":"line","interpolate":"catmull-rom","clip":true,"strokeCap":"butt"},
 "encoding":{
  "detail":{"field":"s"},
  "order":{"field":"a","type":"quantitative"},
  "color":{"field":"s","type":"nominal","scale":{"domain":["p","t","y"],"range":["#0000ff","#000000","#ff0000"]},"legend":null},
  "strokeDash":{"field":"s","type":"nominal","scale":{"domain":["p","t","y"],"range":[[1,0],[2,1.6],[6,3.5]]},"legend":null},
  "strokeWidth":{"field":"s","type":"ordinal","scale":{"domain":["p","t","y"],"range":[2,2.6,2]},"legend":null}
 }}
]
}
}
]
}
